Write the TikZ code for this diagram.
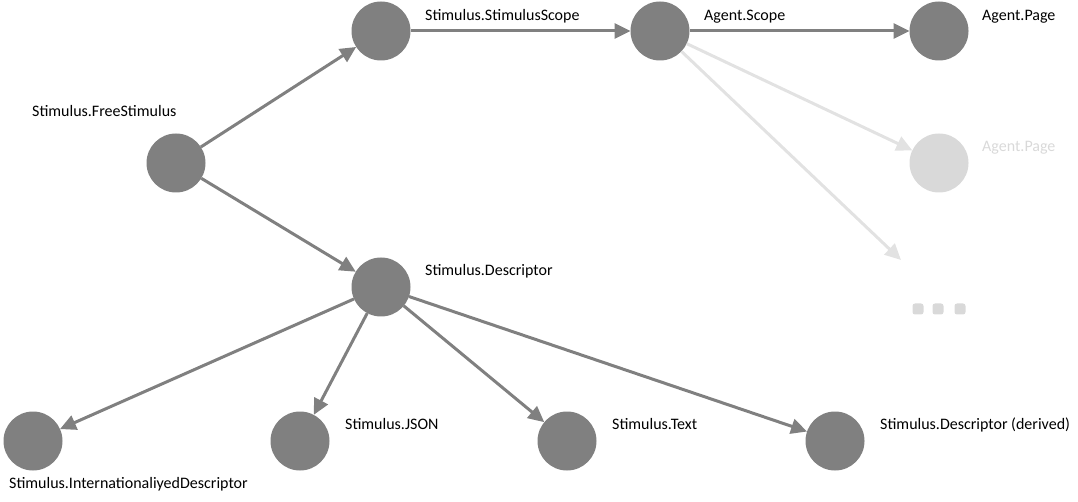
\documentclass[tikz,border=0pt]{standalone}
\usepackage{fontspec}
\setmainfont{Carlito}
\usetikzlibrary{arrows.meta}
\definecolor{dk}{HTML}{808080}
\definecolor{lt}{HTML}{D9D9D9}
\definecolor{ltline}{HTML}{E2E2E2}
\begin{document}
\begin{tikzpicture}[x=1pt,y=-1pt,
  dot/.style={circle,fill=dk,draw=none,minimum size=59pt,inner sep=0pt,outer sep=0pt},
  fdot/.style={dot,fill=lt},
  lbl/.style={anchor=base west,inner sep=0pt,font=\fontsize{16}{19}\selectfont,text=black},
  flbl/.style={lbl,text=lt},
  conn/.style={draw=dk,line width=3pt,-{Triangle[length=16pt,width=15pt]}},
  fconn/.style={draw=ltline,line width=3pt,-{Triangle[length=16pt,width=15pt]}},
  ell/.style={fill=lt,rounded corners=2.5pt,minimum size=11pt,inner sep=0pt,draw=none}
]
\useasboundingbox (0,0) rectangle (1078,502);
\node[dot] (free) at (176,163) {};
\node[dot] (scope) at (381,31) {};
\node[dot] (desc) at (381,287) {};
\node[dot] (ascope) at (660,31) {};
\node[dot] (apage) at (939,31) {};
\node[fdot] (apage2) at (939,163) {};
\node[dot] (intl) at (33,441) {};
\node[dot] (json) at (300,441) {};
\node[dot] (text) at (567,441) {};
\node[dot] (derived) at (835,441) {};
\coordinate (more) at (901,260);
\node[ell] (e1) at (918,309) {};
\node[ell] (e2) at (938,309) {};
\node[ell] (e3) at (960,309) {};

\node[lbl] (lfree) at (32,117) {Stimulus.FreeStimulus};
\node[lbl] (lscope) at (425,21) {Stimulus.StimulusScope};
\node[lbl] (ldesc) at (425,276) {Stimulus.Descriptor};
\node[lbl] (lascope) at (704,21) {Agent.Scope};
\node[lbl] (lapage) at (982,21) {Agent.Page};
\node[flbl] (lapage2) at (982,152) {Agent.Page};
\node[lbl] (ljson) at (345,429) {Stimulus.JSON};
\node[lbl] (ltext) at (612,429) {Stimulus.Text};
\node[lbl] (lderived) at (880,429) {Stimulus.Descriptor (derived)};
\node[lbl] (lintl) at (9,488) {Stimulus.InternationaliyedDescriptor};

\draw[fconn] (ascope) -- (apage2);
\draw[fconn] (ascope) -- (more);
\draw[conn] (free) -- (scope);
\draw[conn] (free) -- (desc);
\draw[conn] (scope) -- (ascope);
\draw[conn] (ascope) -- (apage);
\draw[conn] (desc) -- (intl);
\draw[conn] (desc) -- (json);
\draw[conn] (desc) -- (text);
\draw[conn] (desc) -- (derived);
\end{tikzpicture}
\end{document}
